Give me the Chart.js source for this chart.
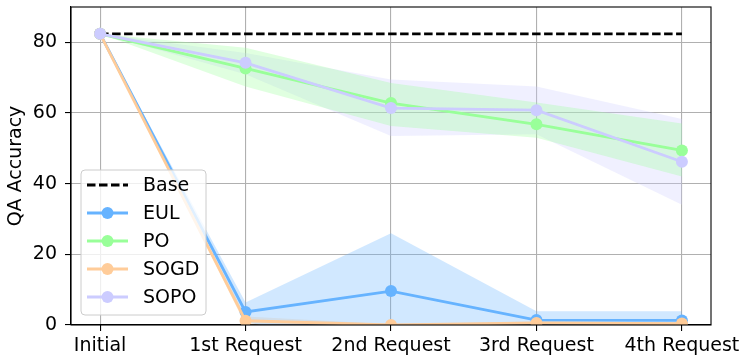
<!DOCTYPE html>
<html>
<head>
<meta charset="utf-8">
<script src="https://cdn.jsdelivr.net/npm/chart.js@4/dist/chart.umd.min.js"></script>
<style>
  html, body { margin: 0; padding: 0; background: #fff; }
  #wrap { width: 743px; height: 356px; }
</style>
</head>
<body>
<div id="wrap"><canvas id="c"></canvas></div>
<script>
// Stages of the request sequence and the y tick values
const stages = ['Initial', '1st Request', '2nd Request', '3rd Request', '4th Request'];
const yTicks = [0, 20, 40, 60, 80];

// Reference accuracy of the base model
const baseAcc = 82.4;

// Mean QA accuracy per method, with lower / upper band bounds
const eulMean  = [82.4, 3.7, 9.6, 1.4, 1.3];
const eulLow   = [82.4, 0.8, -6.8, -1.0, -1.2];
const eulHigh  = [82.4, 6.4, 26.0, 3.9, 3.9];

const poMean   = [82.4, 72.6, 62.8, 56.8, 49.4];
const poLow    = [82.4, 67.5, 56.3, 53.0, 42.0];
const poHigh   = [82.4, 78.5, 68.5, 63.0, 57.0];

const sogdMean = [82.4, 1.2, 0.0, 0.6, 0.4];
const sogdLow  = [82.4, 0.0, 0.0, 0.2, 0.1];
const sogdHigh = [82.4, 2.4, 0.2, 1.0, 0.7];

const sopoMean = [82.4, 74.2, 61.4, 60.8, 46.2];
const sopoLow  = [82.4, 71.0, 53.5, 54.0, 34.0];
const sopoHigh = [82.4, 77.0, 69.5, 67.5, 58.3];

const COLORS = {
  EUL:  '#66b3ff',
  PO:   '#99ff99',
  SOGD: '#ffcc99',
  SOPO: '#ccccff'
};

function hexA(hex, a) {
  const n = parseInt(hex.slice(1), 16);
  return `rgba(${(n >> 16) & 255},${(n >> 8) & 255},${n & 255},${a})`;
}
const pts = arr => arr.map((v, i) => ({ x: i, y: v }));

const FONT = 'DejaVu Sans';
const FS = 19;
Chart.defaults.font.family = FONT;
Chart.defaults.font.size = FS;
Chart.defaults.color = '#000';

function bandPair(low, high, color) {
  return [
    { data: pts(low), borderWidth: 0, pointRadius: 0, fill: false, order: 20, tension: 0 },
    { data: pts(high), borderWidth: 0, pointRadius: 0, fill: '-1',
      backgroundColor: hexA(color, 0.3), order: 20, tension: 0 }
  ];
}

function series(label, data, color, order) {
  return {
    label, data: pts(data), borderColor: color, backgroundColor: color,
    borderWidth: 2.8, pointRadius: 6, pointHoverRadius: 6, pointBorderWidth: 0,
    pointBackgroundColor: color, fill: false, tension: 0, order
  };
}

const datasets = [
  ...bandPair(eulLow, eulHigh, COLORS.EUL),
  ...bandPair(poLow, poHigh, COLORS.PO),
  ...bandPair(sogdLow, sogdHigh, COLORS.SOGD),
  ...bandPair(sopoLow, sopoHigh, COLORS.SOPO),
  {
    label: 'Base', data: stages.map((s, i) => ({ x: i, y: baseAcc })),
    borderColor: '#000', borderWidth: 2.8, borderDash: [8.5, 3.5],
    pointRadius: 0, fill: false, order: 6
  },
  series('EUL', eulMean, COLORS.EUL, 5),
  series('PO', poMean, COLORS.PO, 4),
  series('SOGD', sogdMean, COLORS.SOGD, 3),
  series('SOPO', sopoMean, COLORS.SOPO, 2)
];

// Full frame around the plotting area
const frame = {
  id: 'frame',
  afterDatasetsDraw(chart) {
    const { ctx, chartArea: a } = chart;
    ctx.save();
    ctx.strokeStyle = '#000';
    ctx.lineWidth = 1.1;
    ctx.strokeRect(a.left, a.top, a.right - a.left, a.bottom - a.top);
    ctx.restore();
  }
};

// Legend box drawn inside the plot
const insetLegend = {
  id: 'insetLegend',
  afterDraw(chart) {
    const { ctx } = chart;
    const entries = ['Base', 'EUL', 'PO', 'SOGD', 'SOPO'];
    const bx = 81, by = 170, bw = 125, bh = 145;
    ctx.save();
    ctx.beginPath();
    ctx.roundRect(bx, by, bw, bh, 4);
    ctx.fillStyle = 'rgba(255,255,255,0.8)';
    ctx.fill();
    ctx.strokeStyle = '#cccccc';
    ctx.lineWidth = 1;
    ctx.stroke();
    entries.forEach((name, k) => {
      const y = 185 + k * 28;
      const ds = chart.data.datasets.find(d => d.label === name);
      ctx.beginPath();
      ctx.strokeStyle = ds.borderColor;
      ctx.lineWidth = ds.borderWidth;
      ctx.setLineDash(ds.borderDash || []);
      ctx.moveTo(87, y);
      ctx.lineTo(128, y);
      ctx.stroke();
      ctx.setLineDash([]);
      if (ds.pointRadius > 0) {
        ctx.beginPath();
        ctx.fillStyle = ds.pointBackgroundColor;
        ctx.arc(107.5, y, ds.pointRadius, 0, Math.PI * 2);
        ctx.fill();
      }
      ctx.fillStyle = '#000';
      ctx.font = `${FS}px "${FONT}"`;
      ctx.textAlign = 'left';
      ctx.textBaseline = 'middle';
      ctx.fillText(name, 143, y + 1);
    });
    ctx.restore();
  }
};

const noPad = s => { s.paddingTop = 0; s.paddingBottom = 0; s.paddingLeft = 0; s.paddingRight = 0; };

new Chart(document.getElementById('c'), {
  type: 'line',
  data: { datasets },
  plugins: [frame, insetLegend],
  options: {
    responsive: true,
    maintainAspectRatio: false,
    animation: false,
    devicePixelRatio: 1,
    layout: { padding: { left: 0, top: 7, right: 32, bottom: 0 } },
    plugins: { legend: { display: false }, tooltip: { enabled: false } },
    scales: {
      x: {
        type: 'linear', min: -0.2, max: 4.2,
        afterBuildTicks: s => { s.ticks = stages.map((_, i) => ({ value: i })); },
        afterFit: s => { s.height = 31; noPad(s); },
        ticks: {
          autoSkip: false, maxRotation: 0, padding: 4,
          callback: v => stages[v] ?? ''
        },
        grid: { color: '#b0b0b0', lineWidth: 1.1, tickColor: '#000', tickLength: 6 },
        border: { display: true, color: '#000', width: 1.1 }
      },
      y: {
        min: 0, max: 90,
        afterBuildTicks: s => { s.ticks = yTicks.map(v => ({ value: v })); },
        afterFit: s => { s.width = 71; noPad(s); },
        ticks: { padding: 8 },
        grid: { color: '#b0b0b0', lineWidth: 1.1, tickColor: '#000', tickLength: 6 },
        border: { display: true, color: '#000', width: 1.1 },
        title: { display: true, text: 'QA Accuracy', padding: { top: 5, bottom: 0 }, font: { size: FS } }
      }
    }
  }
});
</script>
</body>
</html>
